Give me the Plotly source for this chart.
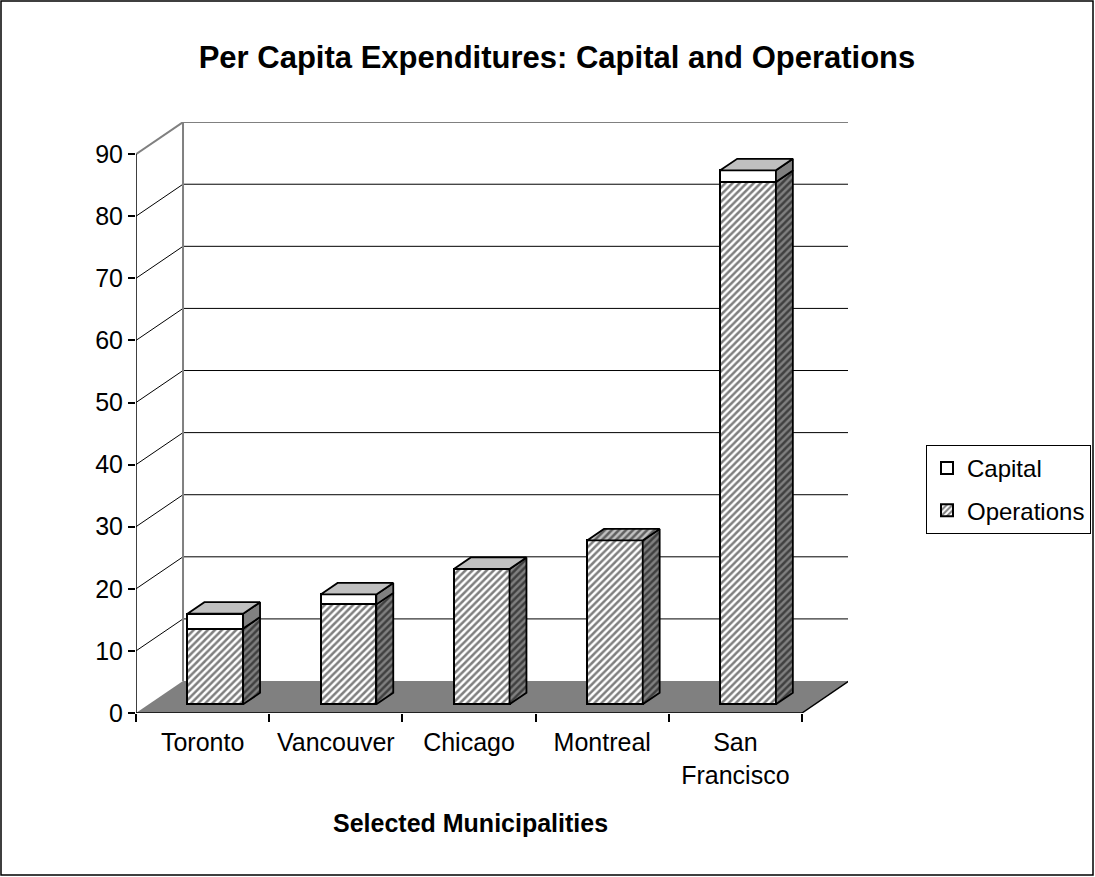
import plotly.graph_objects as go

# ---- data ----
categories = ["Toronto", "Vancouver", "Chicago", "Montreal", "San Francisco"]
tick_labels = ["Toronto", "Vancouver", "Chicago", "Montreal", "San<br>Francisco"]
operations = [12.2, 16.1, 21.8, 26.4, 84.1]
capital = [2.4, 1.6, 0.0, None, 1.9]
y_ticks = [0, 10, 20, 30, 40, 50, 60, 70, 80, 90]

# ---- 3D geometry (in axis units) ----
DX, DY = 0.353, 5.15      # full depth of the floor
F0, F1 = 0.27, 0.63       # bar front / back depth fraction
BW = 0.418                # bar width
FONT = "Liberation Sans, Arial, sans-serif"

n = len(categories)
xs = [i + F0 * DX for i in range(n)]
base = F0 * DY
bd_x, bd_y = (F1 - F0) * DX, (F1 - F0) * DY

HATCH = dict(shape="/", size=5, solidity=0.5)

fig = go.Figure()

# front faces via bars
cap_base = [base + o for o in operations]
fig.add_trace(go.Bar(
    x=xs, y=capital, base=cap_base, width=BW, name="Capital", legendgroup="cap",
    marker=dict(color="white", line=dict(color="black", width=2)),
))
fig.add_trace(go.Bar(
    x=xs, y=operations, base=[base] * n, width=BW, name="Operations", legendgroup="ops",
    marker=dict(color="white", line=dict(color="black", width=2),
                pattern=dict(fgcolor="black", bgcolor="white", **HATCH)),
))


def poly(px, py, fillcolor=None, pattern=None):
    kw = dict(x=px, y=py, mode="lines", fill="toself", showlegend=False,
              hoverinfo="skip", line=dict(color="black", width=1.8))
    if pattern is not None:
        kw["fillpattern"] = pattern
        kw["fillcolor"] = pattern["bgcolor"]
    else:
        kw["fillcolor"] = fillcolor
    fig.add_trace(go.Scatter(**kw))


for i in range(n):
    xl = xs[i] - BW / 2
    xr = xs[i] + BW / 2
    o = operations[i]
    c = capital[i]
    # operations side face
    y0, y1 = base, base + o
    poly([xr, xr + bd_x, xr + bd_x, xr, xr],
         [y0, y0 + bd_y, y1 + bd_y, y1, y0],
         pattern=dict(fgcolor="black", bgcolor="#808080", **HATCH))
    top = y1
    if c is not None:
        y0, y1 = base + o, base + o + c
        if c > 0:
            poly([xr, xr + bd_x, xr + bd_x, xr, xr],
                 [y0, y0 + bd_y, y1 + bd_y, y1, y0], fillcolor="#808080")
        top = y1
        poly([xl, xr, xr + bd_x, xl + bd_x, xl],
             [top, top, top + bd_y, top + bd_y, top], fillcolor="#C0C0C0")
    else:
        poly([xl, xr, xr + bd_x, xl + bd_x, xl],
             [top, top, top + bd_y, top + bd_y, top],
             pattern=dict(fgcolor="black", bgcolor="#C0C0C0", **HATCH))

# ---- walls, floor, gridlines ----
X0, X1 = -0.5, n - 0.5
shapes = []
shapes.append(dict(type="path", layer="below",
                   path=f"M {X0},0 L {X1},0 L {X1+DX},{DY} L {X0+DX},{DY} Z",
                   fillcolor="#808080", line=dict(width=0)))
for v in y_ticks[1:-1]:
    shapes.append(dict(type="line", layer="below", x0=X0 + DX, x1=X1 + DX,
                       y0=v + DY, y1=v + DY, line=dict(color="black", width=1)))
    shapes.append(dict(type="line", layer="below", x0=X0, x1=X0 + DX,
                       y0=v, y1=v + DY, line=dict(color="black", width=1)))
top_v = y_ticks[-1]
wall = "#808080"
shapes += [
    dict(type="line", layer="below", x0=X0, x1=X0 + DX, y0=top_v, y1=top_v + DY,
         line=dict(color=wall, width=2)),
    dict(type="line", layer="below", x0=X0 + DX, x1=X1 + DX, y0=top_v + DY, y1=top_v + DY,
         line=dict(color=wall, width=2)),
    dict(type="line", layer="below", x0=X0 + DX, x1=X0 + DX, y0=DY, y1=top_v + DY,
         line=dict(color=wall, width=2)),
    dict(type="line", layer="below", x0=X1 + DX, x1=X1 + DX, y0=DY, y1=top_v + DY,
         line=dict(color=wall, width=2)),
    dict(type="line", x0=X0, x1=X0, y0=0, y1=top_v, line=dict(color="black", width=1.5)),
    dict(type="line", x0=X0, x1=X1, y0=0, y1=0, line=dict(color="black", width=1.5)),
    dict(type="line", x0=X1, x1=X1 + DX, y0=0, y1=DY, line=dict(color="black", width=1.5)),
]

L, R, T, B = 136, 247, 122, 164
W, H = 1095, 877
pw, ph = W - L - R, H - T - B
shapes.append(dict(type="rect", xref="paper", yref="paper",
                   x0=(1 - L) / pw, x1=(W - 2 - L) / pw,
                   y0=(H - B - (H - 2)) / ph, y1=(H - B - 1) / ph,
                   line=dict(color="black", width=1.5)))

fig.update_layout(
    width=W, height=H,
    margin=dict(l=L, r=R, t=T, b=B, autoexpand=False),
    paper_bgcolor="white", plot_bgcolor="white",
    barmode="overlay", bargap=0,
    font=dict(family=FONT, size=25, color="black"),
    shapes=shapes,
    showlegend=True,
    legend=dict(x=(926 - L) / pw, y=(H - B - 445) / ph, xanchor="left", yanchor="top",
                bordercolor="black", borderwidth=1, bgcolor="white",
                font=dict(size=24), tracegroupgap=8, itemwidth=30),
    title=dict(text="<b>Per Capita Expenditures: Capital and Operations</b>",
               x=557 / W, xanchor="center", y=1 - 57 / H, yanchor="middle",
               font=dict(size=31, family=FONT)),
    annotations=[dict(text="<b>Selected Municipalities</b>", xref="paper", yref="paper",
                      x=(470 - L) / pw, y=(H - B - 823) / ph, showarrow=False,
                      xanchor="center", yanchor="middle", font=dict(size=25))],
)

fig.update_xaxes(
    range=[X0, X0 + pw / 133.2], showgrid=False, zeroline=False, showline=False,
    tickmode="array", tickvals=list(range(n)), ticktext=tick_labels, ticks="",
    ticklabelstandoff=12,
    minor=dict(tickmode="array", tickvals=[i - 0.5 for i in range(n + 1)],
               ticks="outside", ticklen=8, tickcolor="black", tickwidth=1.5, showgrid=False),
    fixedrange=True,
)
fig.update_yaxes(
    range=[0, ph / 6.21], showgrid=False, zeroline=False, showline=False,
    tickmode="array", tickvals=y_ticks, ticks="outside", ticklen=7,
    tickcolor="black", tickwidth=1.5, fixedrange=True,
)

fig.write_html("out.html")
